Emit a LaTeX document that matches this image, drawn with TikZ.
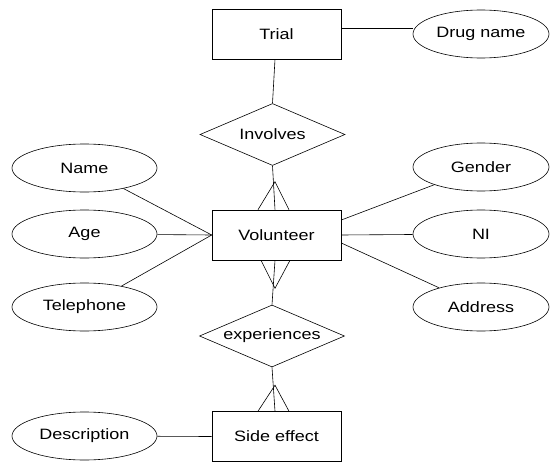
\documentclass[tikz,border=0pt]{standalone}
\usepackage{fontspec}
\setmainfont{Liberation Sans}[FakeStretch=1.2]
\usetikzlibrary{shapes.geometric,calc}
\begin{document}
\begin{tikzpicture}[x=1pt,y=-1pt,
  every node/.style={font=\fontsize{15}{17}\selectfont},
  entity/.style={draw,rectangle,minimum width=129pt,minimum height=50pt,inner sep=0pt},
  attr/.style={draw,ellipse,minimum width=145pt,minimum height=48pt,inner sep=0pt},
  rattr/.style={draw,ellipse,minimum width=136pt,minimum height=48pt,inner sep=0pt},
  rel/.style={draw,diamond,aspect=2.3,minimum width=145pt,minimum height=62pt,inner sep=0pt},
  every path/.style={line width=0.6pt}]
\useasboundingbox (0,0) rectangle (550,463);
% entities
\node[entity] (trial) at (276.5,34) {Trial};
\node[entity] (vol) at (276.5,235) {Volunteer};
\node[entity] (side) at (276.5,436.5) {Side effect};
% relationships
\node[rel] (inv) at (272.5,134.5) {Involves};
\node[rel] (exp) at (272,336) {experiences};
% attributes
\node[rattr] (drug) at (481,34) {Drug name};
\node[attr] (name) at (84.5,168) {Name};
\node[attr] (age) at (84.5,234) {Age};
\node[attr] (tel) at (84.5,307) {Telephone};
\node[rattr] (gender) at (481,167) {Gender};
\node[rattr] (ni) at (481,234) {NI};
\node[rattr] (addr) at (481,307) {Address};
\node[attr] (desc) at (84.5,436) {Description};
% attribute connectors
\coordinate (te) at ($(trial.east)+(0,-6)$);
\draw (te) -- (te -| drug.west);
\draw (name) -- (vol.west);
\draw (age) -- (vol.west);
\draw (tel) -- (vol.west);
\coordinate (ve1) at ($(vol.east)+(0,-15)$);
\coordinate (ve3) at ($(vol.east)+(0,8)$);
\draw (ve1) -- (gender);
\draw (vol.east) -- (ni);
\draw (ve3) -- (addr);
\draw (desc) -- (side.west);
% relationship connectors
\coordinate (tS) at ($(trial.south)+(-1.5,0)$);
\draw (tS) -- (inv.north);
% involves -> volunteer (many)
\coordinate (vN) at ($(vol.north)+(-1.5,0)$);
\coordinate (vNa) at ($(vN)+(0,-28)$);
\draw (inv.south) -- (vN);
\draw ($(vN)+(-17,0)$) -- (vNa) -- ($(vN)+(14,0)$);
% volunteer -> experiences (many)
\coordinate (vS) at ($(vol.south)+(-1.5,0)$);
\coordinate (vSa) at ($(vS)+(0,28)$);
\draw (vS) -- (exp.north);
\draw ($(vS)+(-14,0)$) -- (vSa) -- ($(vS)+(15,0)$);
% experiences -> side effect (many)
\coordinate (sN) at ($(side.north)+(-1.5,0)$);
\coordinate (sNa) at ($(sN)+(0,-26)$);
\draw (exp.south) -- (sN);
\draw ($(sN)+(-17,0)$) -- (sNa) -- ($(sN)+(14,0)$);
\end{tikzpicture}
\end{document}
